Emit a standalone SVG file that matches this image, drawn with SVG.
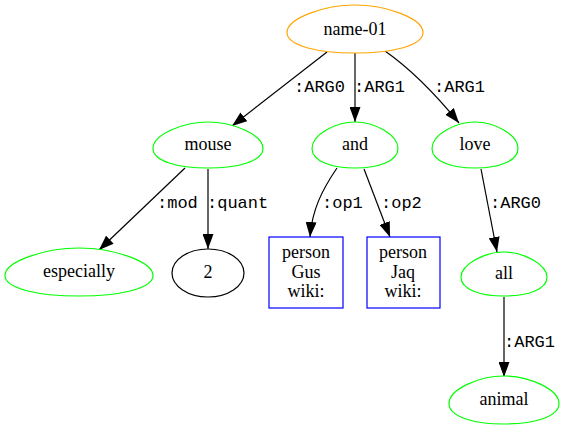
<svg xmlns="http://www.w3.org/2000/svg" width="566" height="429" viewBox="0 0 566 429">
<style>
.n{font-family:"Liberation Serif","Times New Roman",serif;font-size:18px;text-anchor:middle;fill:#000}
.l{font-family:"Liberation Mono","Courier New",monospace;font-size:17px;fill:#000}
.e{fill:none;stroke:#000;stroke-width:1.2}
.g{fill:#fff;stroke:#00ff00;stroke-width:1.2}
</style>
<defs>
<marker id="ah" markerUnits="userSpaceOnUse" markerWidth="15" markerHeight="11" refX="15" refY="5.5" orient="auto">
<path d="M0,0 L15,5.5 L0,11 Z" fill="#000"/>
</marker>
<path id="egg" d="M0,1 C-0.55,1 -1,0.7 -1,0.15 C-1,-0.45 -0.45,-1 0,-1 C0.45,-1 1,-0.45 1,0.15 C1,0.7 0.55,1 0,1 Z" vector-effect="non-scaling-stroke"/>
</defs>
<rect width="566" height="429" fill="#fff"/>
<g id="edges">
<path class="e" d="M327,52 L232,126" marker-end="url(#ah)"/>
<path class="e" d="M355,53 L355,122" marker-end="url(#ah)"/>
<path class="e" d="M385,51 C405,65 428,85 459,123" marker-end="url(#ah)"/>
<path class="e" d="M185,168 L99,250" marker-end="url(#ah)"/>
<path class="e" d="M208,169 L208,249" marker-end="url(#ah)"/>
<path class="e" d="M337,168 C322,190 312,210 310,237" marker-end="url(#ah)"/>
<path class="e" d="M364,169 L390,237" marker-end="url(#ah)"/>
<path class="e" d="M481,169 L497,252" marker-end="url(#ah)"/>
<path class="e" d="M504,297 L504,377" marker-end="url(#ah)"/>
<text class="l" x="294" y="92">:ARG0</text>
<text class="l" x="354" y="92">:ARG1</text>
<text class="l" x="434" y="92">:ARG1</text>
<text class="l" x="157" y="208">:mod</text>
<text class="l" x="207" y="208">:quant</text>
<text class="l" x="322" y="208">:op1</text>
<text class="l" x="381" y="208">:op2</text>
<text class="l" x="490" y="208">:ARG0</text>
<text class="l" x="504" y="347">:ARG1</text>
</g>
<g id="name-01"><use href="#egg" transform="translate(355,29) scale(68,24)" fill="#fff" stroke="#ffa500" stroke-width="1.2"/><text class="n" x="355" y="35">name-01</text></g>
<g id="mouse"><use href="#egg" class="g" transform="translate(208,145) scale(55,23)"/><text class="n" x="208" y="150">mouse</text></g>
<g id="and"><use href="#egg" class="g" transform="translate(355,145) scale(43,23)"/><text class="n" x="355" y="150">and</text></g>
<g id="love"><use href="#egg" class="g" transform="translate(475,145) scale(43,23)"/><text class="n" x="475" y="150">love</text></g>
<g id="especially"><use href="#egg" class="g" transform="translate(79,272) scale(74,24)"/><text class="n" x="79" y="277">especially</text></g>
<g id="n2"><ellipse cx="208" cy="273" rx="36" ry="24" fill="#fff" stroke="#000" stroke-width="1.2"/><text class="n" x="208" y="278">2</text></g>
<g id="gus"><rect x="269" y="237" width="74" height="71" fill="#fff" stroke="#0000ff" stroke-width="1.2"/><text class="n" x="306" y="258">person</text><text class="n" x="306" y="278">Gus</text><text class="n" x="306" y="297">wiki:</text></g>
<g id="jaq"><rect x="367" y="237" width="73" height="71" fill="#fff" stroke="#0000ff" stroke-width="1.2"/><text class="n" x="403" y="258">person</text><text class="n" x="403" y="278">Jaq</text><text class="n" x="403" y="297">wiki:</text></g>
<g id="all"><use href="#egg" class="g" transform="translate(504,274) scale(43,22)"/><text class="n" x="504" y="279">all</text></g>
<g id="animal"><use href="#egg" class="g" transform="translate(504,400) scale(55,24)"/><text class="n" x="504" y="405">animal</text></g>
</svg>
